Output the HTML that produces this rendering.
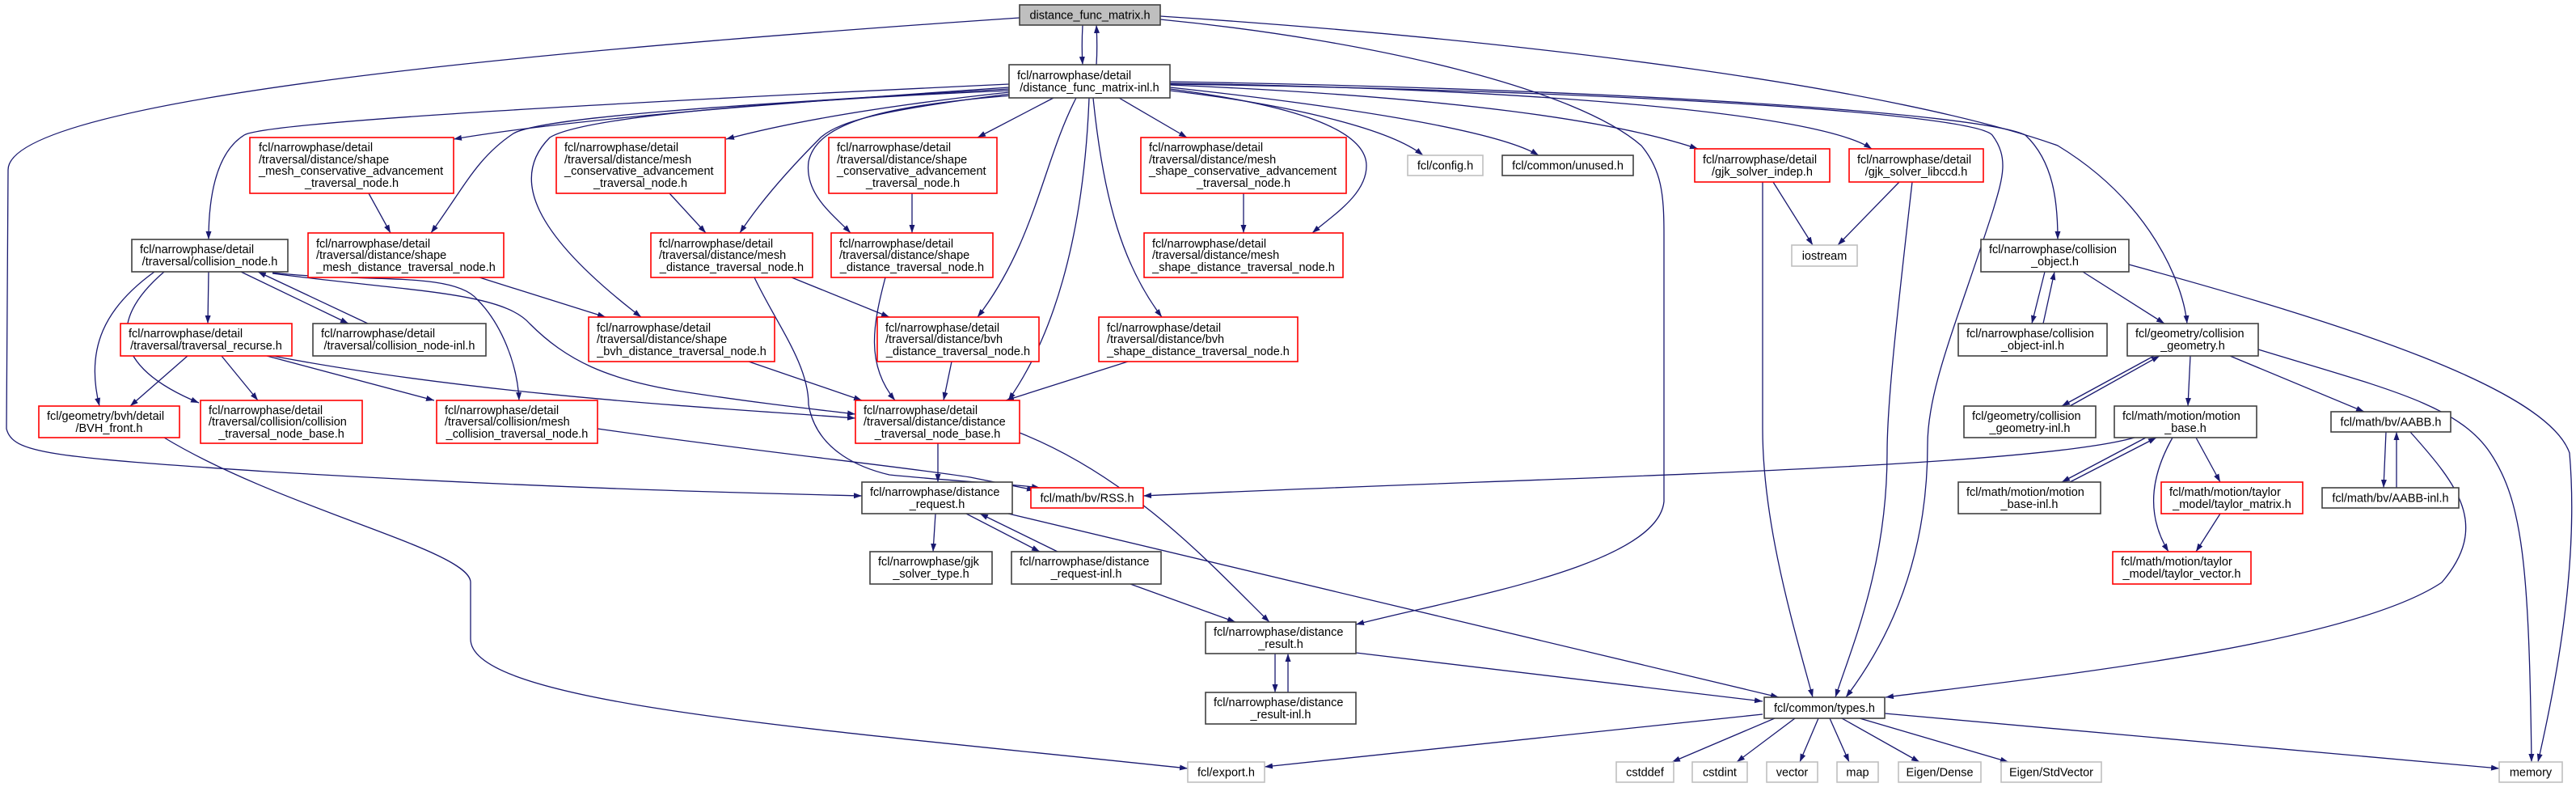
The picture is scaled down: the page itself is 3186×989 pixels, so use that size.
<!DOCTYPE html>
<html><head><meta charset="utf-8"><style>
html,body{margin:0;padding:0;background:#fff}
svg{display:block}
text{font-family:"Liberation Sans",sans-serif;font-size:14.5px;fill:#000}
.b{fill:#fff;stroke:#404040;stroke-width:1.6}
.r{fill:#fff;stroke:#ff0000;stroke-width:1.6}
.g{fill:#fff;stroke:#bfbfbf;stroke-width:1.6}
.t{fill:#bfbfbf;stroke:#404040;stroke-width:1.6}
path.e{fill:none;stroke:#191970;stroke-width:1.3;marker-end:url(#a)}
</style></head><body>
<svg width="3186" height="989" viewBox="0 0 3186 989" xmlns="http://www.w3.org/2000/svg">
<defs><marker id="a" markerUnits="userSpaceOnUse" markerWidth="11" markerHeight="8" refX="10" refY="3.5" orient="auto"><path d="M0,0 L10,3.5 L0,7 z" fill="#191970"/></marker></defs>

<!-- edges -->
<path class="e" d="M1339,31 C1338,50 1338,65 1339,80"/>
<path class="e" d="M1356,80 C1357,65 1357,50 1356,31"/>
<path class="e" d="M1261,22 C700,60 10,120 10,210 L8,530 C15,560 60,565 330,583 C700,605 950,610 1066,613"/>
<path class="e" d="M1435,24 C1700,50 1950,110 2030,180 C2055,210 2058,240 2058,290 L2058,620 C2050,700 1800,740 1677,772"/>
<path class="e" d="M1435,20 C1900,50 2350,110 2545,180 C2660,250 2700,350 2705,400"/>
<path class="e" d="M1248,104 C800,125 330,150 302,167 C265,190 258,250 258,296"/>
<path class="e" d="M1248,108 C1000,125 720,145 561,172"/>
<path class="e" d="M1248,110 C900,130 670,145 635,165 C590,195 575,230 533,288"/>
<path class="e" d="M1248,112 C950,125 720,145 680,170 C630,220 660,290 793,392"/>
<path class="e" d="M1248,114 C1100,130 980,150 898,172"/>
<path class="e" d="M1250,116 C1100,135 1040,148 1015,170 C975,210 940,250 915,288"/>
<path class="e" d="M1252,118 C1100,130 1010,150 1000,200 C995,240 1030,265 1052,288"/>
<path class="e" d="M1303,121 L1209,170"/>
<path class="e" d="M1331,121 C1290,200 1280,300 1209,392"/>
<path class="e" d="M1347,121 C1340,300 1300,420 1247,495"/>
<path class="e" d="M1352,121 C1365,250 1390,330 1437,392"/>
<path class="e" d="M1384,121 L1468,170"/>
<path class="e" d="M1447,110 C1600,130 1690,160 1690,205 C1690,240 1650,265 1623,288"/>
<path class="e" d="M1447,112 C1600,130 1720,160 1760,192"/>
<path class="e" d="M1447,108 C1650,130 1850,160 1903,192"/>
<path class="e" d="M1447,105 C1800,120 2000,150 2100,184"/>
<path class="e" d="M1447,103 C1900,110 2250,140 2315,184"/>
<path class="e" d="M1447,101 C2000,110 2450,140 2505,167 C2540,200 2545,250 2545,296"/>
<path class="e" d="M1447,104 C2000,112 2440,140 2464,167 C2485,195 2477,220 2465,260 C2420,400 2384,480 2384,550 C2384,700 2330,800 2283,862"/>
<path class="e" d="M456,239 L483,288"/>
<path class="e" d="M828,239 L873,288"/>
<path class="e" d="M1128,239 L1128,288"/>
<path class="e" d="M1538,239 L1538,288"/>
<path class="e" d="M593,343 L749,392"/>
<path class="e" d="M979,343 L1100,392"/>
<path class="e" d="M933,343 C960,400 1000,450 1000,500 C1010,560 1070,580 1100,587 C1180,595 1250,598 1286,603"/>
<path class="e" d="M1095,343 C1080,400 1070,450 1107,495"/>
<path class="e" d="M739,530 C950,560 1100,575 1200,590 L1280,606"/>
<path class="e" d="M926,447 L1066,495"/>
<path class="e" d="M1177,447 L1167,495"/>
<path class="e" d="M1395,447 L1244,495"/>
<path class="e" d="M258,336 L257,400"/>
<path class="e" d="M298,336 L431,400"/>
<path class="e" d="M455,400 L319,336"/>
<path class="e" d="M191,336 C130,380 105,430 123,502"/>
<path class="e" d="M203,336 C140,390 130,450 246,498"/>
<path class="e" d="M337,337 C450,350 560,335 590,370 C620,400 640,450 642,495"/>
<path class="e" d="M337,338 C500,360 620,360 655,400 C700,445 750,470 850,485 C950,500 1000,505 1058,512"/>
<path class="e" d="M232,440 L161,502"/>
<path class="e" d="M274,440 L319,495"/>
<path class="e" d="M330,440 L537,495"/>
<path class="e" d="M337,440 C600,490 900,505 1058,517"/>
<path class="e" d="M203,541 C350,630 582,680 582,720 L582,790 C582,870 1000,900 1469,950"/>
<path class="e" d="M1160,548 L1160,596"/>
<path class="e" d="M1261,535 C1400,590 1500,700 1570,769"/>
<path class="e" d="M2640,541 C2500,580 1900,590 1414,613"/>
<path class="e" d="M1157,635 L1154,682"/>
<path class="e" d="M1195,635 L1286,682"/>
<path class="e" d="M1308,682 L1212,635"/>
<path class="e" d="M1247,635 L2200,862"/>
<path class="e" d="M1398,722 L1528,769"/>
<path class="e" d="M1577,808 L1577,856"/>
<path class="e" d="M1593,856 L1593,808"/>
<path class="e" d="M1677,807 L2180,867"/>
<path class="e" d="M2180,883 L1564,948"/>
<path class="e" d="M2195,888 L2068,942"/>
<path class="e" d="M2220,888 L2148,942"/>
<path class="e" d="M2249,888 L2226,942"/>
<path class="e" d="M2263,888 L2287,942"/>
<path class="e" d="M2278,888 L2374,942"/>
<path class="e" d="M2300,888 L2484,942"/>
<path class="e" d="M2331,882 L3091,950"/>
<path class="e" d="M2180,225 L2180,530 C2180,650 2220,780 2242,862"/>
<path class="e" d="M2193,225 L2242,303"/>
<path class="e" d="M2349,225 L2273,303"/>
<path class="e" d="M2365,225 C2345,400 2334,500 2334,560 C2334,700 2290,800 2270,862"/>
<path class="e" d="M2529,336 L2513,400"/>
<path class="e" d="M2527,400 L2541,336"/>
<path class="e" d="M2576,336 L2677,400"/>
<path class="e" d="M2633,327 C2900,400 3150,480 3178,560 C3190,700 3160,850 3139,942"/>
<path class="e" d="M2664,440 L2550,502"/>
<path class="e" d="M2560,502 L2671,440"/>
<path class="e" d="M2709,440 L2706,502"/>
<path class="e" d="M2758,440 L2924,509"/>
<path class="e" d="M2793,432 C2950,480 3040,500 3080,560 C3120,620 3128,700 3131,942"/>
<path class="e" d="M2654,541 L2550,596"/>
<path class="e" d="M2560,596 L2667,541"/>
<path class="e" d="M2716,541 L2746,596"/>
<path class="e" d="M2687,541 C2665,580 2650,630 2682,682"/>
<path class="e" d="M2746,635 L2716,682"/>
<path class="e" d="M2951,534 L2948,603"/>
<path class="e" d="M2964,603 L2964,534"/>
<path class="e" d="M2981,534 C3040,600 3080,650 3020,720 C2900,800 2500,840 2332,862"/>

<!-- nodes -->
<rect class="t" x="1261" y="6" width="174" height="25"/><text x="1348" y="23.5" text-anchor="middle">distance_func_matrix.h</text>
<rect class="b" x="1248" y="80" width="199" height="41"/><text x="1258" y="98">fcl/narrowphase/detail</text><text x="1347.5" y="113" text-anchor="middle">/distance_func_matrix-inl.h</text>

<rect class="r" x="309" y="170" width="252" height="69"/><text x="320" y="187">fcl/narrowphase/detail</text><text x="320" y="202">/traversal/distance/shape</text><text x="320" y="216">_mesh_conservative_advancement</text><text x="435" y="231" text-anchor="middle">_traversal_node.h</text>
<rect class="r" x="688" y="170" width="209" height="69"/><text x="698" y="187">fcl/narrowphase/detail</text><text x="698" y="202">/traversal/distance/mesh</text><text x="698" y="216">_conservative_advancement</text><text x="792" y="231" text-anchor="middle">_traversal_node.h</text>
<rect class="r" x="1025" y="170" width="208" height="69"/><text x="1035" y="187">fcl/narrowphase/detail</text><text x="1035" y="202">/traversal/distance/shape</text><text x="1035" y="216">_conservative_advancement</text><text x="1129" y="231" text-anchor="middle">_traversal_node.h</text>
<rect class="r" x="1411" y="170" width="254" height="69"/><text x="1421" y="187">fcl/narrowphase/detail</text><text x="1421" y="202">/traversal/distance/mesh</text><text x="1421" y="216">_shape_conservative_advancement</text><text x="1538" y="231" text-anchor="middle">_traversal_node.h</text>

<rect class="g" x="1741" y="192" width="93" height="25"/><text x="1787.5" y="209.5" text-anchor="middle">fcl/config.h</text>
<rect class="b" x="1858" y="192" width="162" height="25"/><text x="1939" y="209.5" text-anchor="middle">fcl/common/unused.h</text>
<rect class="r" x="2096" y="184" width="167" height="41"/><text x="2106" y="202">fcl/narrowphase/detail</text><text x="2179.5" y="217" text-anchor="middle">/gjk_solver_indep.h</text>
<rect class="r" x="2287" y="184" width="166" height="41"/><text x="2297" y="202">fcl/narrowphase/detail</text><text x="2370" y="217" text-anchor="middle">/gjk_solver_libccd.h</text>

<rect class="b" x="163" y="296" width="193" height="40"/><text x="173" y="313">fcl/narrowphase/detail</text><text x="259.5" y="328" text-anchor="middle">/traversal/collision_node.h</text>
<rect class="r" x="381" y="288" width="242" height="55"/><text x="391" y="306">fcl/narrowphase/detail</text><text x="391" y="320">/traversal/distance/shape</text><text x="502" y="335" text-anchor="middle">_mesh_distance_traversal_node.h</text>
<rect class="r" x="805" y="288" width="200" height="55"/><text x="815" y="306">fcl/narrowphase/detail</text><text x="815" y="320">/traversal/distance/mesh</text><text x="905" y="335" text-anchor="middle">_distance_traversal_node.h</text>
<rect class="r" x="1028" y="288" width="200" height="55"/><text x="1038" y="306">fcl/narrowphase/detail</text><text x="1038" y="320">/traversal/distance/shape</text><text x="1128" y="335" text-anchor="middle">_distance_traversal_node.h</text>
<rect class="r" x="1415" y="288" width="246" height="55"/><text x="1425" y="306">fcl/narrowphase/detail</text><text x="1425" y="320">/traversal/distance/mesh</text><text x="1538" y="335" text-anchor="middle">_shape_distance_traversal_node.h</text>
<rect class="g" x="2216" y="303" width="81" height="26"/><text x="2256.5" y="321" text-anchor="middle">iostream</text>
<rect class="b" x="2450" y="296" width="183" height="40"/><text x="2460" y="313">fcl/narrowphase/collision</text><text x="2541.5" y="328" text-anchor="middle">_object.h</text>

<rect class="r" x="149" y="400" width="212" height="40"/><text x="159" y="417">fcl/narrowphase/detail</text><text x="255" y="432" text-anchor="middle">/traversal/traversal_recurse.h</text>
<rect class="b" x="387" y="400" width="214" height="40"/><text x="397" y="417">fcl/narrowphase/detail</text><text x="494" y="432" text-anchor="middle">/traversal/collision_node-inl.h</text>
<rect class="r" x="728" y="392" width="230" height="55"/><text x="738" y="410">fcl/narrowphase/detail</text><text x="738" y="424">/traversal/distance/shape</text><text x="843" y="439" text-anchor="middle">_bvh_distance_traversal_node.h</text>
<rect class="r" x="1085" y="392" width="200" height="55"/><text x="1095" y="410">fcl/narrowphase/detail</text><text x="1095" y="424">/traversal/distance/bvh</text><text x="1185" y="439" text-anchor="middle">_distance_traversal_node.h</text>
<rect class="r" x="1359" y="392" width="246" height="55"/><text x="1369" y="410">fcl/narrowphase/detail</text><text x="1369" y="424">/traversal/distance/bvh</text><text x="1482" y="439" text-anchor="middle">_shape_distance_traversal_node.h</text>
<rect class="b" x="2422" y="400" width="184" height="40"/><text x="2432" y="417">fcl/narrowphase/collision</text><text x="2514" y="432" text-anchor="middle">_object-inl.h</text>
<rect class="b" x="2631" y="400" width="162" height="40"/><text x="2641" y="417">fcl/geometry/collision</text><text x="2712" y="432" text-anchor="middle">_geometry.h</text>

<rect class="r" x="48" y="502" width="174" height="39"/><text x="58" y="519">fcl/geometry/bvh/detail</text><text x="135" y="534" text-anchor="middle">/BVH_front.h</text>
<rect class="r" x="248" y="495" width="200" height="53"/><text x="258" y="512">fcl/narrowphase/detail</text><text x="258" y="526">/traversal/collision/collision</text><text x="348" y="541" text-anchor="middle">_traversal_node_base.h</text>
<rect class="r" x="540" y="495" width="199" height="53"/><text x="550" y="512">fcl/narrowphase/detail</text><text x="550" y="526">/traversal/collision/mesh</text><text x="639.5" y="541" text-anchor="middle">_collision_traversal_node.h</text>
<rect class="r" x="1058" y="495" width="203" height="53"/><text x="1068" y="512">fcl/narrowphase/detail</text><text x="1068" y="526">/traversal/distance/distance</text><text x="1159.5" y="541" text-anchor="middle">_traversal_node_base.h</text>
<rect class="b" x="2429" y="502" width="163" height="39"/><text x="2439" y="519">fcl/geometry/collision</text><text x="2510.5" y="534" text-anchor="middle">_geometry-inl.h</text>
<rect class="b" x="2615" y="502" width="176" height="39"/><text x="2625" y="519">fcl/math/motion/motion</text><text x="2703" y="534" text-anchor="middle">_base.h</text>
<rect class="b" x="2883" y="509" width="148" height="25"/><text x="2957" y="526.5" text-anchor="middle">fcl/math/bv/AABB.h</text>

<rect class="b" x="1066" y="596" width="186" height="39"/><text x="1076" y="613">fcl/narrowphase/distance</text><text x="1159" y="628" text-anchor="middle">_request.h</text>
<rect class="r" x="1275" y="603" width="139" height="25"/><text x="1344.5" y="620.5" text-anchor="middle">fcl/math/bv/RSS.h</text>
<rect class="b" x="2422" y="596" width="176" height="39"/><text x="2432" y="613">fcl/math/motion/motion</text><text x="2510" y="628" text-anchor="middle">_base-inl.h</text>
<rect class="r" x="2673" y="596" width="175" height="39"/><text x="2683" y="613">fcl/math/motion/taylor</text><text x="2760.5" y="628" text-anchor="middle">_model/taylor_matrix.h</text>
<rect class="b" x="2872" y="603" width="169" height="25"/><text x="2956.5" y="620.5" text-anchor="middle">fcl/math/bv/AABB-inl.h</text>

<rect class="b" x="1076" y="682" width="151" height="40"/><text x="1086" y="699">fcl/narrowphase/gjk</text><text x="1151.5" y="714" text-anchor="middle">_solver_type.h</text>
<rect class="b" x="1251" y="682" width="185" height="40"/><text x="1261" y="699">fcl/narrowphase/distance</text><text x="1343.5" y="714" text-anchor="middle">_request-inl.h</text>
<rect class="r" x="2613" y="682" width="171" height="40"/><text x="2623" y="699">fcl/math/motion/taylor</text><text x="2698.5" y="714" text-anchor="middle">_model/taylor_vector.h</text>

<rect class="b" x="1491" y="769" width="186" height="39"/><text x="1501" y="786">fcl/narrowphase/distance</text><text x="1584" y="801" text-anchor="middle">_result.h</text>
<rect class="b" x="1491" y="856" width="186" height="39"/><text x="1501" y="873">fcl/narrowphase/distance</text><text x="1584" y="888" text-anchor="middle">_result-inl.h</text>
<rect class="b" x="2182" y="862" width="149" height="26"/><text x="2256.5" y="880" text-anchor="middle">fcl/common/types.h</text>

<rect class="g" x="1469" y="942" width="95" height="25"/><text x="1516.5" y="959.5" text-anchor="middle">fcl/export.h</text>
<rect class="g" x="1999" y="942" width="71" height="25"/><text x="2034.5" y="959.5" text-anchor="middle">cstddef</text>
<rect class="g" x="2093" y="942" width="68" height="25"/><text x="2127" y="959.5" text-anchor="middle">cstdint</text>
<rect class="g" x="2185" y="942" width="63" height="25"/><text x="2216.5" y="959.5" text-anchor="middle">vector</text>
<rect class="g" x="2272" y="942" width="51" height="25"/><text x="2297.5" y="959.5" text-anchor="middle">map</text>
<rect class="g" x="2348" y="942" width="102" height="25"/><text x="2399" y="959.5" text-anchor="middle">Eigen/Dense</text>
<rect class="g" x="2475" y="942" width="124" height="25"/><text x="2537" y="959.5" text-anchor="middle">Eigen/StdVector</text>
<rect class="g" x="3091" y="942" width="78" height="25"/><text x="3130" y="959.5" text-anchor="middle">memory</text>
</svg>
</body></html>
